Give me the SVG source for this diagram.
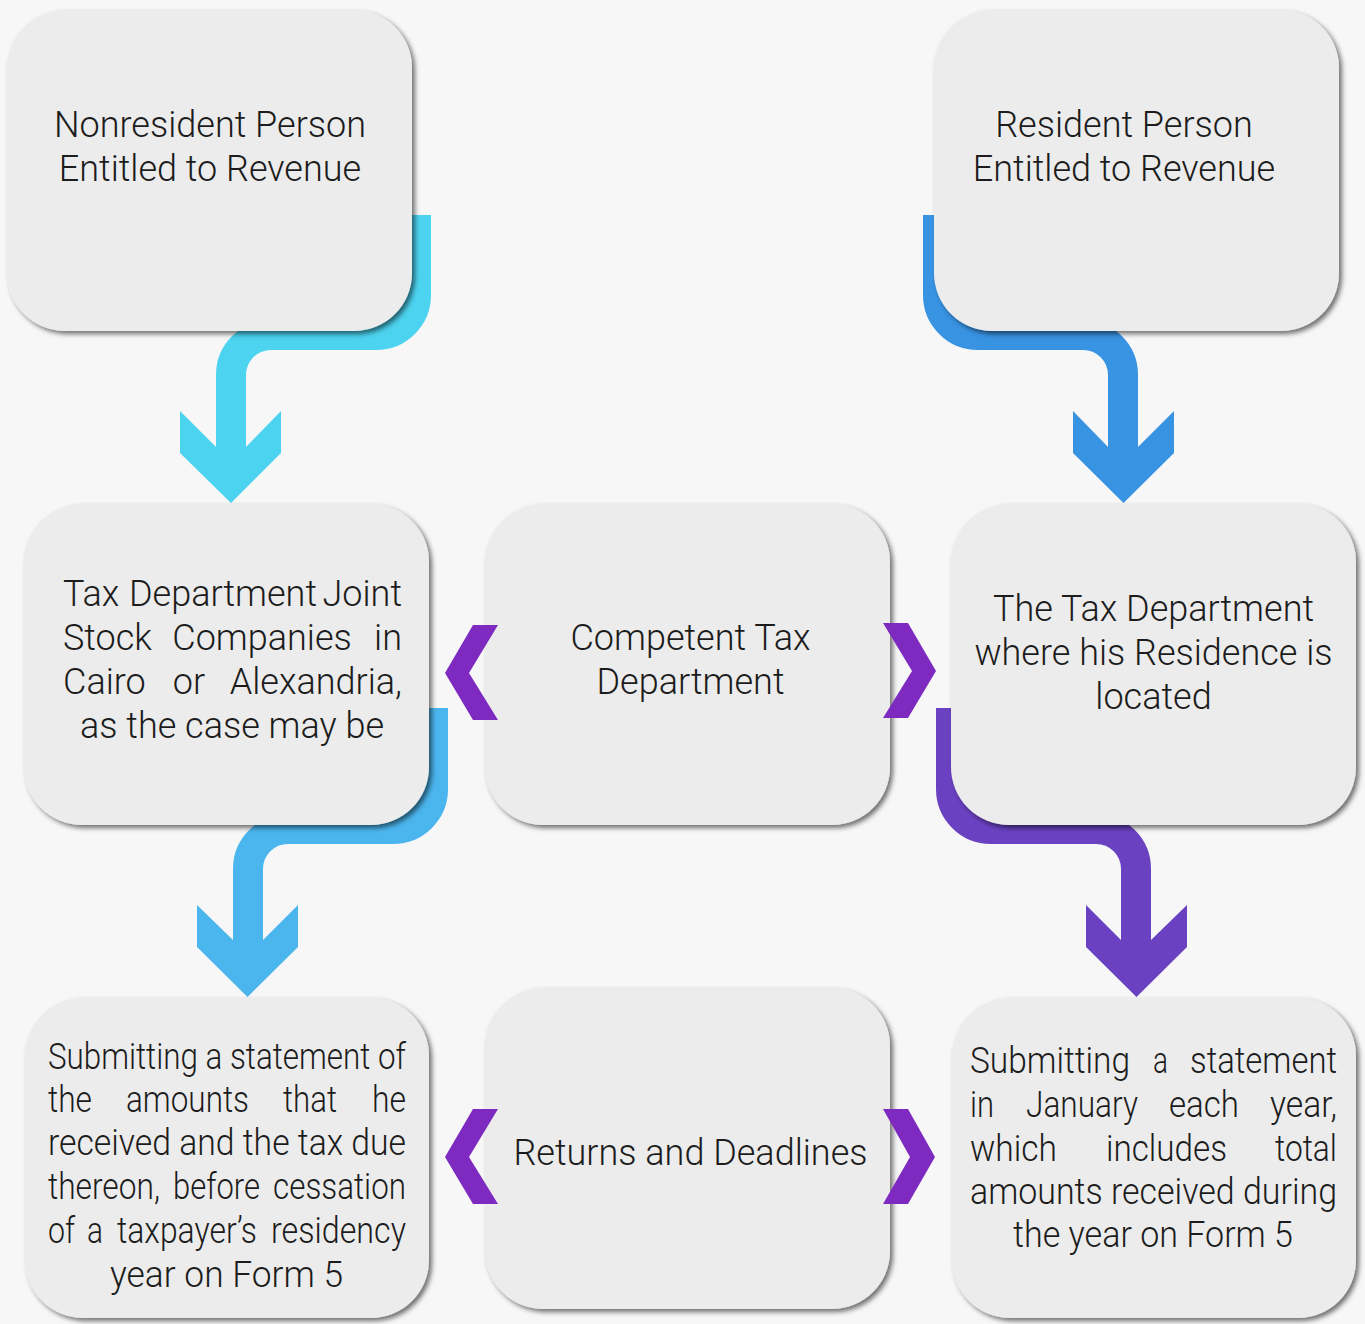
<svg xmlns="http://www.w3.org/2000/svg" width="1365" height="1324" viewBox="0 0 1365 1324">
<defs>
<filter id="sh" x="-10%" y="-10%" width="125%" height="125%">
<feDropShadow dx="3" dy="3" stdDeviation="2.5" flood-color="#000" flood-opacity="0.55"/>
</filter>
<style>
.box{fill:#ECECEC;filter:url(#sh);}
.t{font-family:Roboto,"Liberation Sans",sans-serif;font-weight:300;font-size:36px;fill:#1C1C1C;}
.c{text-anchor:middle;}
.e{text-anchor:end;}
.arr{fill:none;stroke-width:30;}
.chev{fill:#7E2AC0;}
</style>
</defs>
<rect width="1365" height="1324" fill="#F7F7F7"/>
<g id="connectors">
<path class="arr" stroke="#4CD3F0" d="M416 215 V295 A40 40 0 0 1 376 335 H271 A40 40 0 0 0 231 375 V450"/>
<polygon fill="#4CD3F0" points="216,447 180,411 180,453 231,503 281,453 281,411 246,447"/>
<path class="arr" stroke="#3893E3" d="M938 215 V295 A40 40 0 0 0 978 335 H1083 A40 40 0 0 1 1123 375 V450"/>
<polygon fill="#3893E3" points="1108,447 1073,411 1073,453 1123.5,503 1174,453 1174,411 1138,447"/>
<path class="arr" stroke="#4BB5EE" d="M433 708 V789 A40 40 0 0 1 393 829 H288 A40 40 0 0 0 248 869 V943"/>
<polygon fill="#4BB5EE" points="233,940 197,905 197,947 247.5,997 298,947 298,905 263,940"/>
<path class="arr" stroke="#6A41C1" d="M951 708 V789 A40 40 0 0 0 991 829 H1096 A40 40 0 0 1 1136 869 V943"/>
<polygon fill="#6A41C1" points="1121,940 1086,905 1086,947 1136.5,997 1187,947 1187,905 1151,940"/>
</g>
<g id="n-nonresident">
<rect class="box" x="7" y="10" width="405" height="321" rx="58"/>
<text class="t c" x="210" y="137">Nonresident Person</text>
<text class="t c" x="210" y="181">Entitled to Revenue</text>
</g>
<g id="n-resident">
<rect class="box" x="934" y="10" width="405" height="321" rx="58"/>
<text class="t c" x="1124" y="137">Resident Person</text>
<text class="t c" x="1124" y="181">Entitled to Revenue</text>
</g>
<g id="n-jointstock">
<rect class="box" x="24" y="504" width="405" height="321" rx="58"/>
<text class="t" x="63" y="606">Tax</text>
<text class="t c" x="223" y="606">Department</text>
<text class="t e" x="402" y="606">Joint</text>
<text class="t" x="63" y="650">Stock</text>
<text class="t c" x="262" y="650">Companies</text>
<text class="t e" x="402" y="650">in</text>
<text class="t" x="63" y="694">Cairo</text>
<text class="t c" x="189" y="694">or</text>
<text class="t e" x="402" y="694">Alexandria,</text>
<text class="t c" x="232" y="738">as the case may be</text>
</g>
<g id="n-competent">
<rect class="box" x="485" y="504" width="405" height="321" rx="58"/>
<text class="t c" x="690.5" y="650">Competent Tax</text>
<text class="t c" x="690.5" y="694">Department</text>
</g>
<g id="n-residence">
<rect class="box" x="951" y="504" width="405" height="321" rx="58"/>
<text class="t c" x="1153.5" y="621">The Tax Department</text>
<text class="t c" x="1153.5" y="665">where his Residence is</text>
<text class="t c" x="1153.5" y="709">located</text>
</g>
<g id="n-statement-cessation">
<rect class="box" x="25" y="998" width="404" height="320" rx="58"/>
<text class="t" x="48" y="1069" textLength="358" lengthAdjust="spacingAndGlyphs">Submitting a statement of</text>
<text class="t" x="48" y="1112" textLength="44" lengthAdjust="spacingAndGlyphs">the</text>
<text class="t" x="126" y="1112" textLength="123" lengthAdjust="spacingAndGlyphs">amounts</text>
<text class="t" x="283" y="1112" textLength="54" lengthAdjust="spacingAndGlyphs">that</text>
<text class="t" x="372" y="1112" textLength="34" lengthAdjust="spacingAndGlyphs">he</text>
<text class="t" x="48" y="1155" textLength="358" lengthAdjust="spacingAndGlyphs">received and the tax due</text>
<text class="t" x="48" y="1199" textLength="112" lengthAdjust="spacingAndGlyphs">thereon,</text>
<text class="t" x="173" y="1199" textLength="87" lengthAdjust="spacingAndGlyphs">before</text>
<text class="t" x="273" y="1199" textLength="133" lengthAdjust="spacingAndGlyphs">cessation</text>
<text class="t" x="48" y="1243" textLength="27" lengthAdjust="spacingAndGlyphs">of</text>
<text class="t" x="87" y="1243" textLength="16" lengthAdjust="spacingAndGlyphs">a</text>
<text class="t" x="117" y="1243" textLength="140" lengthAdjust="spacingAndGlyphs">taxpayer’s</text>
<text class="t" x="271" y="1243" textLength="135" lengthAdjust="spacingAndGlyphs">residency</text>
<text class="t" x="110" y="1287" textLength="233" lengthAdjust="spacingAndGlyphs">year on Form 5</text>
</g>
<g id="n-returns">
<rect class="box" x="485" y="988" width="405" height="321" rx="58"/>
<text class="t c" x="690.5" y="1165">Returns and Deadlines</text>
</g>
<g id="n-statement-january">
<rect class="box" x="952" y="998" width="404" height="320" rx="58"/>
<text class="t" x="970" y="1073" textLength="160" lengthAdjust="spacingAndGlyphs">Submitting</text>
<text class="t" x="1153" y="1073" textLength="15" lengthAdjust="spacingAndGlyphs">a</text>
<text class="t" x="1190" y="1073" textLength="147" lengthAdjust="spacingAndGlyphs">statement</text>
<text class="t" x="970" y="1117" textLength="24" lengthAdjust="spacingAndGlyphs">in</text>
<text class="t" x="1026" y="1117" textLength="112" lengthAdjust="spacingAndGlyphs">January</text>
<text class="t" x="1169" y="1117" textLength="70" lengthAdjust="spacingAndGlyphs">each</text>
<text class="t" x="1270" y="1117" textLength="67" lengthAdjust="spacingAndGlyphs">year,</text>
<text class="t" x="970" y="1161" textLength="87" lengthAdjust="spacingAndGlyphs">which</text>
<text class="t" x="1106" y="1161" textLength="121" lengthAdjust="spacingAndGlyphs">includes</text>
<text class="t" x="1275" y="1161" textLength="62" lengthAdjust="spacingAndGlyphs">total</text>
<text class="t" x="970" y="1204" textLength="367" lengthAdjust="spacingAndGlyphs">amounts received during</text>
<text class="t" x="1013" y="1247" textLength="280" lengthAdjust="spacingAndGlyphs">the year on Form 5</text>
</g>
<g id="connectors-links">
<polygon class="chev" points="473,625 498,625 469,673 498,720 473,720 445,673"/>
<polygon class="chev" points="883,623 908,623 936,671 908,718 883,718 912,671"/>
<polygon class="chev" points="473,1109 498,1109 469,1157 498,1204 473,1204 445,1157"/>
<polygon class="chev" points="883,1109 908,1109 935,1157 908,1204 883,1204 910,1157"/>
</g>
</svg>
